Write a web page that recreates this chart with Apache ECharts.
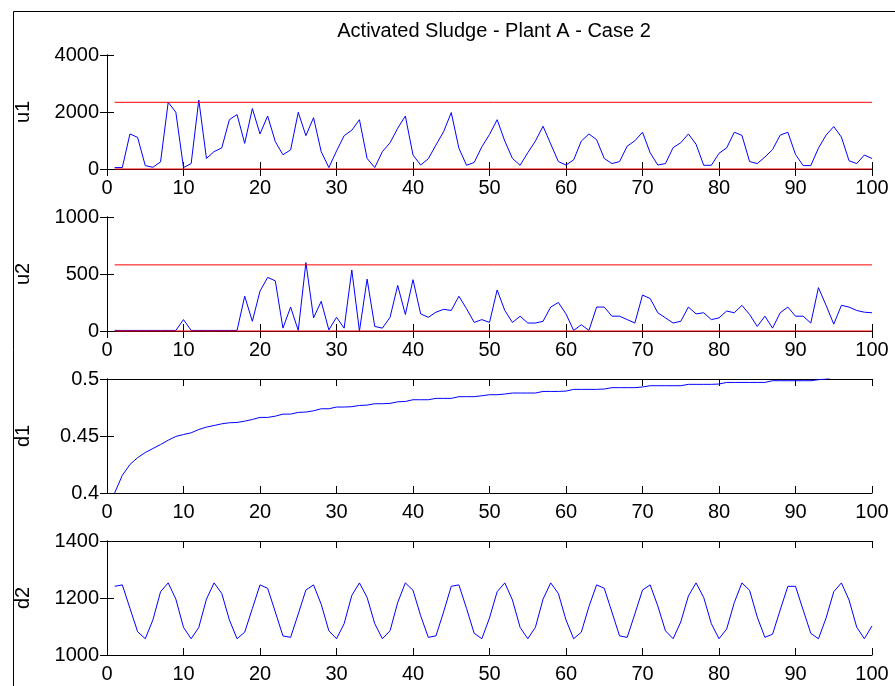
<!DOCTYPE html>
<html>
<head>
<meta charset="utf-8">
<script src="https://cdn.jsdelivr.net/npm/echarts@6/dist/echarts.min.js"></script>
<style>html,body{margin:0;padding:0;background:#fff}#c{width:895px;height:686px}</style>
</head>
<body>
<div id="c"></div>
<script>
var titleText = 'Activated Sludge - Plant A - Case 2';
var panelNames = ['u1', 'u2', 'd1', 'd2'];
var xTicks = [0, 100, 10];
var u1 = [50,50,1230,1110,120,60,250,2340,1990,50,
  190,2420,370,610,740,1730,1910,900,2120,1230,
  1860,960,500,670,1990,1170,1800,610,50,630,
  1170,1360,1730,370,50,610,920,1430,1860,490,
  140,360,840,1310,1980,730,130,230,780,1210,
  1730,980,370,130,570,980,1500,880,260,140,
  320,980,1230,1030,370,190,260,800,990,1290,
  570,140,190,750,920,1230,870,130,130,550,
  740,1290,1180,260,190,420,680,1190,1290,510,
  120,120,730,1190,1490,1120,290,190,490,370];
var u2 = [5,5,5,5,5,5,5,5,5,100,
  5,5,5,5,5,5,5,305,85,350,
  470,440,25,210,5,600,115,260,10,120,
  25,535,0,455,40,25,120,400,145,450,
  150,120,165,190,180,305,195,75,100,75,
  360,180,75,130,70,70,85,210,250,150,
  5,55,5,210,210,130,130,100,70,315,
  285,160,115,70,85,210,150,160,100,115,
  175,160,225,145,40,130,25,160,210,130,
  130,70,380,225,60,225,210,180,165,160];
var d1 = [0.400,0.4155,0.425,0.431,0.4355,0.439,0.4425,0.4463,0.4496,0.4513,
  0.4528,0.4557,0.4578,0.4592,0.4607,0.4616,0.4619,0.4630,0.4645,0.4663,
  0.4663,0.4674,0.4692,0.4692,0.4707,0.4710,0.4721,0.4739,0.4739,0.4754,
  0.4754,0.4757,0.4768,0.4771,0.4783,0.4783,0.4786,0.4800,0.4803,0.4818,
  0.4818,0.4818,0.4830,0.4830,0.4830,0.4845,0.4845,0.4845,0.4853,0.4862,
  0.4862,0.4868,0.4877,0.4877,0.4877,0.4877,0.4891,0.4891,0.4891,0.4894,
  0.4909,0.4909,0.4909,0.4909,0.4912,0.4924,0.4924,0.4924,0.4924,0.4930,
  0.4941,0.4941,0.4941,0.4941,0.4941,0.4953,0.4953,0.4953,0.4953,0.4956,
  0.4970,0.4970,0.4970,0.4970,0.4970,0.4970,0.4985,0.4985,0.4985,0.4985,
  0.4985,0.4985,0.4994,0.5000,0.5020,0.5020,0.5025,0.5025,0.5030,0.5030];
var d2 = [1241,1246,1164,1082,1057,1123,1222,1253,1196,1097,
  1057,1097,1196,1253,1216,1123,1057,1080,1163,1246,
  1234,1151,1067,1062,1144,1228,1246,1178,1085,1057,
  1110,1209,1253,1202,1110,1057,1085,1184,1253,1227,
  1138,1062,1067,1151,1241,1246,1163,1076,1057,1130,
  1222,1253,1193,1097,1057,1097,1196,1253,1216,1123,
  1057,1080,1170,1246,1234,1151,1067,1062,1144,1228,
  1246,1172,1085,1057,1116,1207,1253,1202,1110,1057,
  1091,1184,1253,1227,1133,1062,1073,1158,1241,1241,
  1158,1076,1057,1130,1222,1253,1193,1098,1057,1102];
var yMin = [0, 0, 0.4, 1000];
var yMax = [4000, 1000, 0.5, 1400];
var yStep = [2000, 500, 0.05, 200];
var u1Limit = [0, 2340];
var u2Limit = [0, 580];

var seriesData = [u1, u2, d1, d2];
var limits = [u1Limit, u2Limit, null, null];
var tops = [55, 217, 379, 541];
var font = 'Liberation Sans, Arial, Helvetica, sans-serif';

var grids = [], xAxes = [], yAxes = [], series = [];
var axisLine = {show: true, lineStyle: {color: '#000', width: 1}};
for (var p = 0; p < 4; p++) {
  grids.push({left: 107, right: 23, top: tops[p], height: 114, containLabel: false});
  var xb = {type: 'value', gridIndex: p, position: 'bottom', min: xTicks[0], max: xTicks[1], interval: xTicks[2],
    axisLine: axisLine, splitLine: {show: false},
    axisTick: {inside: true, length: 7, lineStyle: {color: '#000'}},
    axisLabel: {color: '#000', fontFamily: font, fontSize: 20, margin: 9}};
  var xt = {type: 'value', gridIndex: p, position: 'top', min: xTicks[0], max: xTicks[1], interval: xTicks[2],
    axisLine: axisLine, splitLine: {show: false},
    axisTick: {inside: true, length: 7, lineStyle: {color: '#000'}},
    axisLabel: {show: false}};
  xAxes.push(xb, xt);
  var yl = {type: 'value', gridIndex: p, position: 'left', min: yMin[p], max: yMax[p], interval: yStep[p],
    name: panelNames[p], nameLocation: 'middle', nameGap: 74, nameRotate: 90,
    nameTextStyle: {color: '#000', fontFamily: font, fontSize: 20},
    axisLine: axisLine, splitLine: {show: false},
    axisTick: {inside: true, length: 7, lineStyle: {color: '#000'}},
    axisLabel: {color: '#000', fontFamily: font, fontSize: 20, margin: 8,
      formatter: function (v) { return String(Math.round(v * 1000) / 1000); }}};
  var yr = {type: 'value', gridIndex: p, position: 'right', min: yMin[p], max: yMax[p], interval: yStep[p],
    axisLine: axisLine, splitLine: {show: false},
    axisTick: {inside: true, length: 7, lineStyle: {color: '#000'}},
    axisLabel: {show: false}};
  yAxes.push(yl, yr);
  var arr = seriesData[p];
  var pts = arr.map(function (v, i) { return [i + 1, v]; });
  series.push({type: 'line', xAxisIndex: 2 * p, yAxisIndex: 2 * p, data: pts, symbol: 'none',
    clip: true, lineStyle: {color: '#0000ff', width: 1}, z: 3, animation: false});
  if (limits[p]) {
    limits[p].forEach(function (lv) {
      series.push({type: 'line', xAxisIndex: 2 * p, yAxisIndex: 2 * p,
        data: [[1, lv], [arr.length, lv]], symbol: 'none', clip: false,
        lineStyle: {color: '#ff0000', width: 1}, z: 4, animation: false});
    });
  }
}

var chart = echarts.init(document.getElementById('c'), null, {renderer: 'canvas'});
chart.setOption({
  backgroundColor: '#fff',
  animation: false,
  title: {text: titleText, left: 489, textAlign: 'center', top: 16,
    textStyle: {color: '#000', fontFamily: font, fontSize: 20, fontWeight: 'normal'}},
  graphic: [{type: 'rect', left: 11, top: 9, shape: {width: 1000, height: 800},
    style: {fill: 'none', stroke: '#000', lineWidth: 1}, silent: true}],
  grid: grids,
  xAxis: xAxes,
  yAxis: yAxes,
  series: series
});
</script>
</body>
</html>
